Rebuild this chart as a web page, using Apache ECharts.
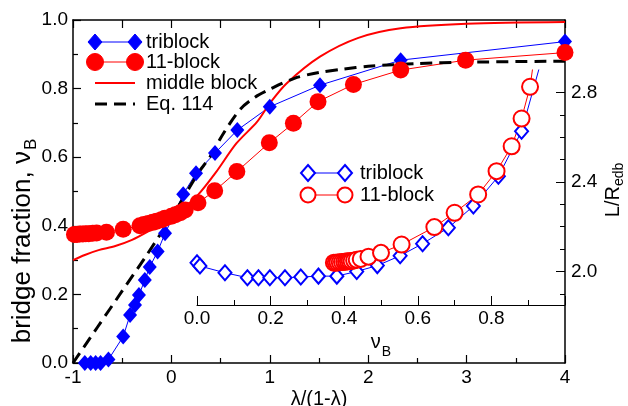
<!DOCTYPE html>
<html>
<head>
<meta charset="utf-8">
<script src="https://cdn.jsdelivr.net/npm/echarts@6/dist/echarts.min.js"></script>
<style>
html, body { margin: 0; padding: 0; background: #fff; }
#chart { width: 628px; height: 406px; }
</style>
</head>
<body>
<div id="chart"></div>
<script>
// main panel: bridge fraction vs lambda/(1-lambda)
const triblockMain = [
    [-0.88, 0], [-0.82, 0], [-0.77, 0], [-0.72, 0], [-0.64, 0.01],
    [-0.49, 0.077], [-0.42, 0.14], [-0.37, 0.169], [-0.33, 0.198], [-0.27, 0.242],
    [-0.22, 0.28], [-0.14, 0.325], [-0.065, 0.378], [0.03, 0.434], [0.12, 0.492],
    [0.25, 0.553], [0.443, 0.612], [0.67, 0.679], [1.0, 0.747], [1.51, 0.81],
    [2.33, 0.883], [4.0, 0.937]
];
const elevenMain = [
    [-0.985, 0.375], [-0.96, 0.375], [-0.93, 0.376], [-0.9, 0.376], [-0.87, 0.377],
    [-0.84, 0.377], [-0.8, 0.378], [-0.76, 0.379], [-0.66, 0.381], [-0.49, 0.39],
    [-0.32, 0.4], [-0.28, 0.404], [-0.235, 0.407], [-0.19, 0.41], [-0.15, 0.413],
    [-0.1, 0.418], [-0.065, 0.422], [0.0, 0.428], [0.04, 0.432], [0.09, 0.438],
    [0.14, 0.446], [0.27, 0.467], [0.44, 0.502], [0.665, 0.558], [0.995, 0.642],
    [1.24, 0.699], [1.49, 0.762], [1.85, 0.812], [2.33, 0.854], [2.99, 0.883],
    [4.0, 0.905]
];
const middleBlock = [
    [-1, 0.3], [-0.88, 0.315], [-0.74, 0.329], [-0.57, 0.341], [-0.4, 0.359],
    [-0.24, 0.383], [-0.07, 0.412], [0.1, 0.446], [0.27, 0.49], [0.45, 0.555],
    [0.66, 0.64], [0.87, 0.703], [1.0, 0.757], [1.17, 0.815], [1.51, 0.893],
    [1.9, 0.948], [2.33, 0.976], [3.0, 0.989], [4.0, 0.994]
];
const eq114 = [
    [-1, 0], [-0.75, 0.105], [-0.5, 0.21], [-0.25, 0.315], [0, 0.425],
    [0.14, 0.49], [0.27, 0.553], [0.39, 0.6], [0.53, 0.67], [0.7, 0.74],
    [0.85, 0.775], [1.0, 0.798], [1.25, 0.83], [1.5, 0.847], [1.75, 0.857],
    [2.0, 0.865], [2.5, 0.873], [3.0, 0.877], [4.0, 0.88]
];

// inset: L/R_edb vs bridge fraction
const triblockInset = [
    [0.0, 2.039], [0.008, 2.024], [0.076, 1.994], [0.137, 1.972], [0.167, 1.972],
    [0.198, 1.972], [0.239, 1.972], [0.282, 1.975], [0.33, 1.979], [0.38, 1.979],
    [0.434, 2.0], [0.49, 2.026], [0.552, 2.07], [0.613, 2.124], [0.683, 2.195],
    [0.751, 2.292], [0.819, 2.425], [0.882, 2.626], [0.937, 2.95]
];
const elevenInset = [
    [0.372, 2.039], [0.377, 2.039], [0.382, 2.04], [0.388, 2.041], [0.394, 2.042],
    [0.4, 2.043], [0.405, 2.044], [0.41, 2.045], [0.415, 2.046], [0.42, 2.047],
    [0.427, 2.049], [0.434, 2.052], [0.445, 2.056], [0.466, 2.066], [0.5, 2.083],
    [0.556, 2.12], [0.645, 2.198], [0.7, 2.262], [0.764, 2.344], [0.814, 2.448],
    [0.855, 2.559], [0.882, 2.683], [0.905, 2.825], [0.92, 3.0]
];
const insetMajorTicks = [2.0, 2.4, 2.8];
const insetMinorTicks = [1.9, 2.1, 2.2, 2.3, 2.5, 2.6, 2.7];

const BLUE = '#0000ff';
const RED = '#ff0000';
const FONT = '"Liberation Sans", Arial, sans-serif';

const chart = echarts.init(document.getElementById('chart'), null, { renderer: 'canvas' });

function legendRow(y, x0, x1, tx, label, kind) {
    const els = [];
    if (kind === 'dash') {
        els.push({ type: 'line', shape: { x1: x0, y1: y, x2: x1, y2: y },
            style: { stroke: '#000', lineWidth: 3, lineDash: [12, 7] } });
    } else {
        const color = kind.indexOf('tri') === 0 ? BLUE : RED;
        els.push({ type: 'line', shape: { x1: x0, y1: y, x2: x1, y2: y },
            style: { stroke: color, lineWidth: kind === 'mid' ? 2 : 1 } });
        const hollow = kind.indexOf('Open') > 0;
        [x0, x1].forEach(cx => {
            if (kind.indexOf('tri') === 0) {
                els.push({ type: 'polygon',
                    shape: { points: [[cx, y - 8], [cx + 7, y], [cx, y + 8], [cx - 7, y]] },
                    style: { fill: hollow ? '#fff' : BLUE, stroke: BLUE, lineWidth: hollow ? 2 : 1 } });
            } else if (kind.indexOf('eleven') === 0) {
                els.push({ type: 'circle', shape: { cx: cx, cy: y, r: hollow ? 7.5 : 8.5 },
                    style: { fill: hollow ? '#fff' : RED, stroke: RED, lineWidth: hollow ? 2 : 1 } });
            }
        });
    }
    els.push({ type: 'text', x: tx, y: y,
        style: { text: label, font: '20px ' + FONT, fill: '#000', verticalAlign: 'middle' } });
    return els;
}

const tickLabel = { fontSize: 19, fontFamily: FONT, color: '#000' };
const blackLine = (w) => ({ onZero: false, lineStyle: { color: '#000', width: w } });

chart.setOption({
    animation: false,
    backgroundColor: '#fff',
    grid: [
        { left: 73, top: 20, width: 492, height: 343, outerBoundsMode: 'none', containLabel: false },
        { left: 197, top: 70, width: 368, height: 235, outerBoundsMode: 'none', containLabel: false }
    ],
    xAxis: [
        {
            gridIndex: 0, type: 'value', min: -1, max: 4, interval: 1, position: 'bottom',
            axisLine: blackLine(1.5),
            axisTick: { inside: true, length: 8, lineStyle: { color: '#000', width: 1.2 } },
            minorTick: { show: true, splitNumber: 2, length: 5, lineStyle: { color: '#000', width: 1.2 } },
            splitLine: { show: false },
            axisLabel: { ...tickLabel, margin: 5 },
            name: 'λ/(1-λ)', nameLocation: 'middle', nameGap: 26, nameMoveOverlap: false,
            nameTextStyle: { fontSize: 20, fontFamily: FONT, color: '#000' }
        },
        {
            gridIndex: 0, type: 'value', min: -1, max: 4, interval: 1, position: 'top',
            axisLine: blackLine(1.5),
            axisTick: { inside: true, length: 8, lineStyle: { color: '#000', width: 1.2 } },
            minorTick: { show: true, splitNumber: 2, length: 8, lineStyle: { color: '#000', width: 1.2 } },
            splitLine: { show: false },
            axisLabel: { show: false }
        },
        {
            gridIndex: 1, type: 'value', min: 0, max: 1, interval: 0.2, position: 'bottom',
            axisLine: blackLine(1),
            axisTick: { inside: true, length: 9, lineStyle: { color: '#000', width: 1 } },
            minorTick: { show: true, splitNumber: 2, length: 5, lineStyle: { color: '#000', width: 1 } },
            splitLine: { show: false },
            axisLabel: { ...tickLabel, margin: 4, formatter: v => (v >= 1 ? '' : v.toFixed(1)) },
            name: '{a|ν}{b|B}', nameLocation: 'middle', nameGap: 15,
            nameTextStyle: {
                rich: {
                    a: { fontSize: 20, fontFamily: FONT, color: '#000', lineHeight: 24 },
                    b: { fontSize: 14, fontFamily: FONT, color: '#000', padding: [18, 0, 0, 1] }
                }
            }
        }
    ],
    yAxis: [
        {
            gridIndex: 0, type: 'value', min: 0, max: 1, interval: 0.2, position: 'left',
            axisLine: blackLine(1.5),
            axisTick: { inside: true, length: 8, lineStyle: { color: '#000', width: 1.2 } },
            minorTick: { show: true, splitNumber: 2, length: 5, lineStyle: { color: '#000', width: 1.2 } },
            splitLine: { show: false },
            axisLabel: { ...tickLabel, margin: 5, formatter: v => v.toFixed(1) }
        },
        {
            gridIndex: 0, type: 'value', min: 0, max: 1, position: 'right',
            axisLine: { show: true, onZero: false, lineStyle: { color: '#000', width: 1.5 } },
            axisTick: { show: false }, axisLabel: { show: false }, splitLine: { show: false }
        },
        {
            gridIndex: 1, type: 'value', min: 1.85, max: 2.9, position: 'right',
            axisLine: { show: false, onZero: false },
            axisTick: { show: true, inside: true, length: 9, customValues: insetMajorTicks,
                lineStyle: { color: '#000', width: 1 } },
            axisLabel: { ...tickLabel, margin: 6, customValues: insetMajorTicks, formatter: v => v.toFixed(1) },
            splitLine: { show: false }
        },
        {
            gridIndex: 1, type: 'value', min: 1.85, max: 2.9, position: 'right',
            axisLine: { show: false, onZero: false },
            axisTick: { show: true, inside: true, length: 5, customValues: insetMinorTicks,
                lineStyle: { color: '#000', width: 1 } },
            axisLabel: { show: false },
            splitLine: { show: false }
        }
    ],
    series: [
        {
            name: 'triblock', type: 'line', xAxisIndex: 0, yAxisIndex: 0, data: triblockMain,
            symbol: 'diamond', symbolSize: [14, 16],
            itemStyle: { color: BLUE }, lineStyle: { color: BLUE, width: 1 }
        },
        {
            name: '11-block', type: 'line', xAxisIndex: 0, yAxisIndex: 0, data: elevenMain,
            symbol: 'circle', symbolSize: 17,
            itemStyle: { color: RED }, lineStyle: { color: RED, width: 1 }
        },
        {
            name: 'middle block', type: 'line', xAxisIndex: 0, yAxisIndex: 0, data: middleBlock,
            showSymbol: false, smooth: 0.3, lineStyle: { color: RED, width: 2 }
        },
        {
            name: 'Eq. 114', type: 'line', xAxisIndex: 0, yAxisIndex: 0, data: eq114,
            showSymbol: false, smooth: 0.3,
            lineStyle: { color: '#000', width: 3, type: [12, 7] }
        },
        {
            name: 'triblock inset', type: 'line', xAxisIndex: 2, yAxisIndex: 2, data: triblockInset,
            symbol: 'diamond', symbolSize: [13, 15],
            itemStyle: { color: '#fff', borderColor: BLUE, borderWidth: 2 },
            lineStyle: { color: BLUE, width: 1 }
        },
        {
            name: '11-block inset', type: 'line', xAxisIndex: 2, yAxisIndex: 2, data: elevenInset,
            symbol: 'circle', symbolSize: 16,
            itemStyle: { color: '#fff', borderColor: RED, borderWidth: 2 },
            lineStyle: { color: RED, width: 1 }
        }
    ],
    graphic: [
        ...legendRow(42, 95, 135, 146, 'triblock', 'tri'),
        ...legendRow(62, 95, 135, 146, '11-block', 'eleven'),
        ...legendRow(83, 95, 135, 146, 'middle block', 'mid'),
        ...legendRow(104, 95, 135, 146, 'Eq. 114', 'dash'),
        ...legendRow(173, 308, 345, 360, 'triblock', 'triOpen'),
        ...legendRow(195, 308, 345, 360, '11-block', 'elevenOpen'),
        {
            type: 'text', x: 23, y: 241, rotation: Math.PI / 2,
            style: {
                text: '{a|bridge fraction, ν}{b|B}', align: 'center', verticalAlign: 'middle',
                rich: {
                    a: { fontSize: 26, fontFamily: FONT, fill: '#000', lineHeight: 28 },
                    b: { fontSize: 17, fontFamily: FONT, fill: '#000', padding: [16, 0, 0, 1] }
                }
            }
        },
        {
            type: 'text', x: 613, y: 190, rotation: Math.PI / 2,
            style: {
                text: '{a|L/R}{b|edb}', align: 'center', verticalAlign: 'middle',
                rich: {
                    a: { fontSize: 20, fontFamily: FONT, fill: '#000', lineHeight: 24 },
                    b: { fontSize: 14, fontFamily: FONT, fill: '#000', padding: [12, 0, 0, 0] }
                }
            }
        }
    ]
});
</script>
</body>
</html>
